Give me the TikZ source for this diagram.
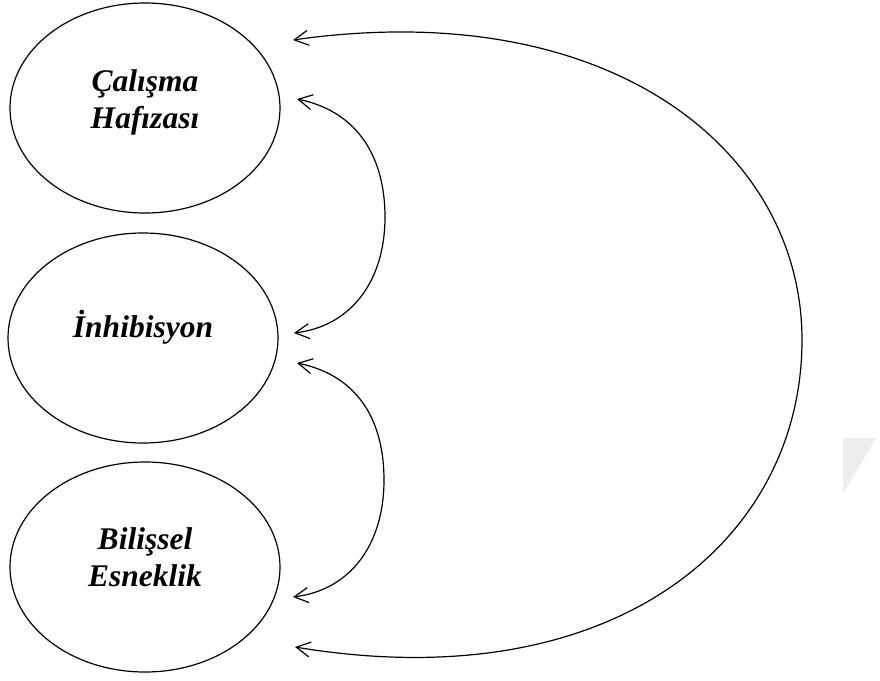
\documentclass[tikz,border=0pt]{standalone}
\usepackage{fontspec}
\setmainfont{Liberation Serif}
\usetikzlibrary{arrows.meta,shapes.geometric}
\begin{document}
\begin{tikzpicture}[x=1pt,y=-1pt,
  factor/.style={ellipse,draw,line width=1.2pt,inner sep=0pt,
                 minimum width=270pt,minimum height=210pt},
  factortext/.style={align=center,font=\fontsize{31.5}{37}\selectfont\bfseries\itshape},
  link/.style={line width=1.2pt,{Straight Barb[length=14pt,width=15pt]}-{Straight Barb[length=14pt,width=15pt]}}]
  \useasboundingbox (0,0) rectangle (880,680);

  % faint corner mark on the right edge
  \fill[black!7] (843,438) -- (876,438) -- (843,494) -- cycle;

  % the three factors
  \node[factor] (wm)  at (145,108) {};
  \node[factor] (inh) at (143,338) {};
  \node[factor] (cf)  at (145,567) {};
  \node[factortext] (wmt)  at (145,102) {Çalışma\\Hafızası};
  \node[factortext] (inht) at (143,327) {İnhibisyon};
  \node[factortext] (cft)  at (145,557) {Bilişsel\\Esneklik};

  % arrow end points beside the ellipses
  \coordinate (wmTop) at (293,40);
  \coordinate (wmLow) at (297,99);
  \coordinate (inhUp) at (294,333);
  \coordinate (inhLow) at (297,363);
  \coordinate (cfUp) at (293,597);
  \coordinate (cfLow) at (295,647);

  % neighbouring pairs
  \draw[link] (wmLow) .. controls (360,112) and (385,160) .. (385,217)
                      .. controls (385,280) and (352,326) .. (inhUp);
  \draw[link] (inhLow) .. controls (360,376) and (384,423) .. (384,480)
                       .. controls (384,545) and (350,590) .. (cfUp);
  % outer pair
  \draw[link] (wmTop) .. controls (610,-5) and (802,150) .. (802,340)
                      .. controls (802,540) and (615,700) .. (cfLow);
\end{tikzpicture}
\end{document}
